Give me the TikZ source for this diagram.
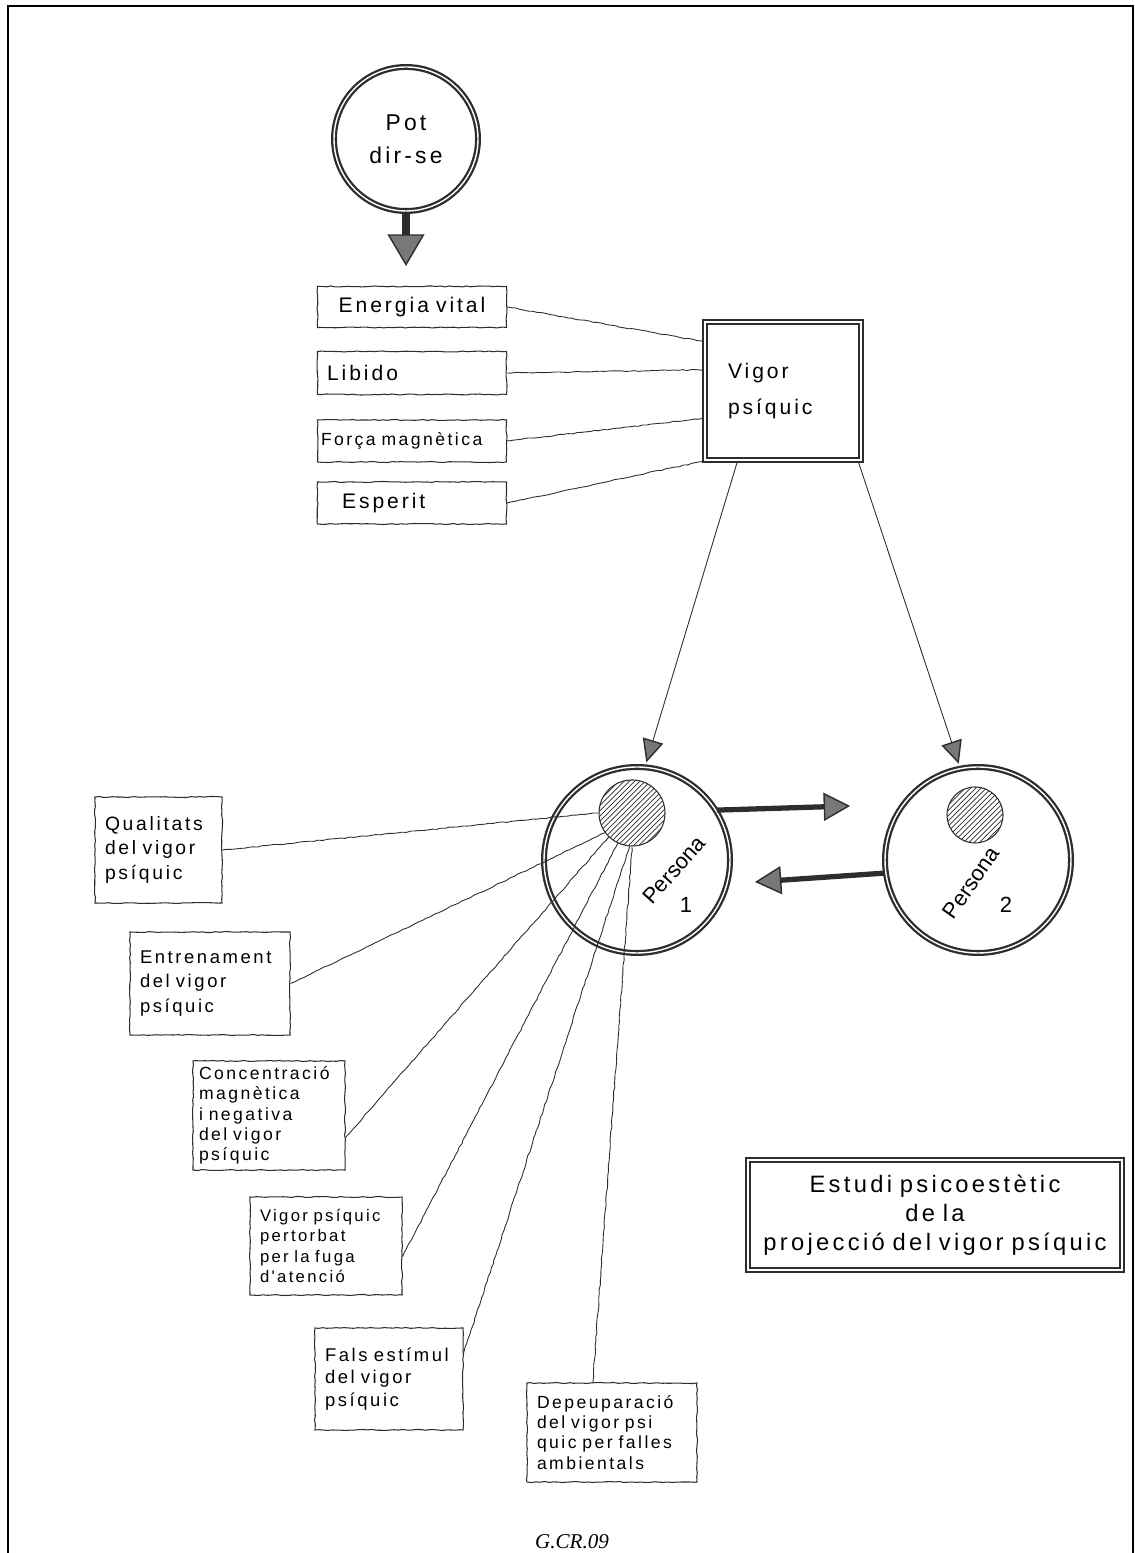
\documentclass[tikz,border=0pt]{standalone}
\usepackage{fontspec}
\setmainfont{Liberation Serif}
\newfontfamily\handfont[LetterSpace=14, WordSpace=3]{Liberation Sans}
\newfontfamily\plainhand{Liberation Sans}
\usetikzlibrary{arrows.meta, positioning, decorations.pathmorphing, patterns}
\definecolor{pencil}{RGB}{45,45,45}
\definecolor{lead}{RGB}{120,120,120}

\tikzset{
  sketch/.style={decorate, decoration={random steps, segment length=2.5pt, amplitude=0.3pt}},
  card/.style={draw=pencil, line width=0.6pt, sketch, align=left},
  tag/.style={card, minimum width=3.78cm, text width=3.4cm, inner xsep=0.19cm, font=\handfont\fontsize{12}{14}\selectfont},
  note/.style={card, inner xsep=0.2cm},
  heavybox/.style={draw=pencil, line width=1.2pt, double=white, double distance=0.8pt},
  ring/.style={circle, draw=pencil, line width=1.3pt, double=white, double distance=0.8pt},
  spot/.style={circle, draw=pencil, line width=0.6pt, pattern=north east lines, pattern color=pencil},
  label/.style={font=\plainhand\fontsize{12.5}{14}\selectfont},
  link/.style={draw=pencil, line width=0.5pt, sketch},
  thinarrow/.style={draw=pencil, line width=0.5pt, -{Triangle[length=13pt, width=12pt, fill=lead, line width=0.8pt]}},
  fatarrow/.style={draw=pencil, line width=3pt, -{Triangle[length=15pt, width=16pt, fill=lead, line width=0.8pt]}},
  droparrow/.style={draw=pencil, line width=5pt, -{Triangle[length=18pt, width=21pt, fill=lead, line width=0.8pt]}}
}

\begin{document}
\begin{tikzpicture}
  \useasboundingbox (0,0) rectangle (22.7,31.06);
  \pgfmathsetseed{11}
  % page frame
  \draw[line width=0.9pt] (0.16,0) -- (0.16,30.94) -- (22.66,30.94) -- (22.66,0);

  % source and its four names
  \node[ring, minimum size=2.88cm, align=center, font=\handfont\fontsize{13}{19}\selectfont] (pot) at (8.12,28.28) {Pot\\dir-se};
  \node[tag, minimum height=0.82cm, align=center] (energia) at (8.24,24.92) {Energia vital};
  \node[tag, minimum height=0.86cm] (libido) at (8.24,23.60) {Libido};
  \node[tag, minimum height=0.84cm, text width=3.64cm, inner xsep=0.07cm, font=\handfont\fontsize{10}{12}\selectfont] (forca) at (8.24,22.24) {Força magnètica};
  \node[tag, minimum height=0.84cm] (esperit) at (8.24,21.00) {\hspace{0.3cm}Esperit};
  \node[heavybox, minimum height=2.76cm, text width=2.2cm, inner xsep=0.46cm, align=left,
        font=\handfont\fontsize{12}{20}\selectfont] (vigor) at (15.66,23.24) {Vigor\\psíquic};

  % the two persons
  \node[ring, minimum size=3.72cm] (p1) at (12.74,13.86) {};
  \node[ring, minimum size=3.72cm] (p2) at (19.56,13.86) {};
  \node[spot, minimum size=1.32cm] (s1) at (12.64,14.80) {};
  \node[spot, minimum size=1.12cm] (s2) at (19.50,14.76) {};
  \node[label, rotate=48] (p1name) at (13.48,13.66) {Persona};
  \node[label] (p1num) at (13.72,12.96) {1};
  \node[label, rotate=55] (p2name) at (19.42,13.40) {Persona};
  \node[label] (p2num) at (20.12,12.96) {2};

  % notes round persona 1
  \node[note, minimum width=2.54cm, minimum height=2.12cm, text width=2.14cm, font=\handfont\fontsize{11}{14}\selectfont] (qualitats) at (3.17,14.06) {Qualitats\\del vigor\\psíquic};
  \node[note, minimum width=3.20cm, minimum height=2.06cm, text width=2.80cm, font=\handfont\fontsize{10.5}{14}\selectfont] (entrenament) at (4.20,11.39) {Entrenament\\del vigor\\psíquic};
  \node[note, minimum width=3.04cm, minimum height=2.10cm, text width=2.80cm, inner xsep=0.12cm, font=\handfont\fontsize{10}{11.5}\selectfont] (concentracio) at (5.38,8.75) {Concentració\\magnètica\\i negativa\\del vigor\\psíquic};
  \node[note, minimum width=3.04cm, minimum height=1.96cm, text width=2.64cm, font=\handfont\fontsize{9.5}{11.5}\selectfont] (pertorbat) at (6.52,6.14) {Vigor psíquic\\pertorbat\\per la fuga\\d'atenció};
  \node[note, minimum width=2.96cm, minimum height=2.04cm, text width=2.56cm, font=\handfont\fontsize{10.5}{13}\selectfont] (fals) at (7.78,3.48) {Fals estímul\\del vigor\\psíquic};
  \node[note, minimum width=3.40cm, minimum height=1.98cm, text width=3.00cm, font=\handfont\fontsize{10}{11.5}\selectfont] (depeur) at (12.24,2.41) {Depeuparació\\del vigor psi\\quic per falles\\ambientals};

  % title box
  \node[heavybox, minimum width=7.48cm, minimum height=2.20cm, text width=7.3cm, inner xsep=0.09cm, align=center,
        font=\handfont\fontsize{13.5}{16.5}\selectfont] (estudi) at (18.70,6.76) {Estudi psicoestètic\\de la\\projecció del vigor psíquic};
  \node[font=\itshape\fontsize{12}{14}\selectfont] (code) at (11.44,0.22) {G.CR.09};

  % connectors
  \draw[droparrow, shorten >=0.4cm] (pot.south) -- (pot.south |- energia.north);
  \draw[link] (energia.east) -- (vigor.148);
  \draw[link] (libido.east) -- (vigor.165);
  \draw[link] (forca.east) -- (vigor.199);
  \draw[link] (esperit.east) -- (vigor.south west);
  \draw[thinarrow, shorten >=0.08cm] (vigor.237) -- (p1.85);
  \draw[thinarrow, shorten >=0.08cm] (vigor.317) -- (p2.101);
  \coordinate (meet2) at (17.0,14.94);
  \coordinate (meet1) at (15.10,13.42);
  \draw[fatarrow] (p1.32) -- (meet2);
  \draw[fatarrow] (p2.188) -- (meet1);
  \draw[link] (s1.west) -- (qualitats.east);
  \draw[link] (s1.216) -- (entrenament.east);
  \draw[link] (s1.226) -- (concentracio.-16);
  \draw[link] (s1.245) -- (pertorbat.-8);
  \draw[link] (s1.266) -- (fals.19);
  \draw[link] (s1.south) -- (depeur.111);
\end{tikzpicture}
\end{document}
